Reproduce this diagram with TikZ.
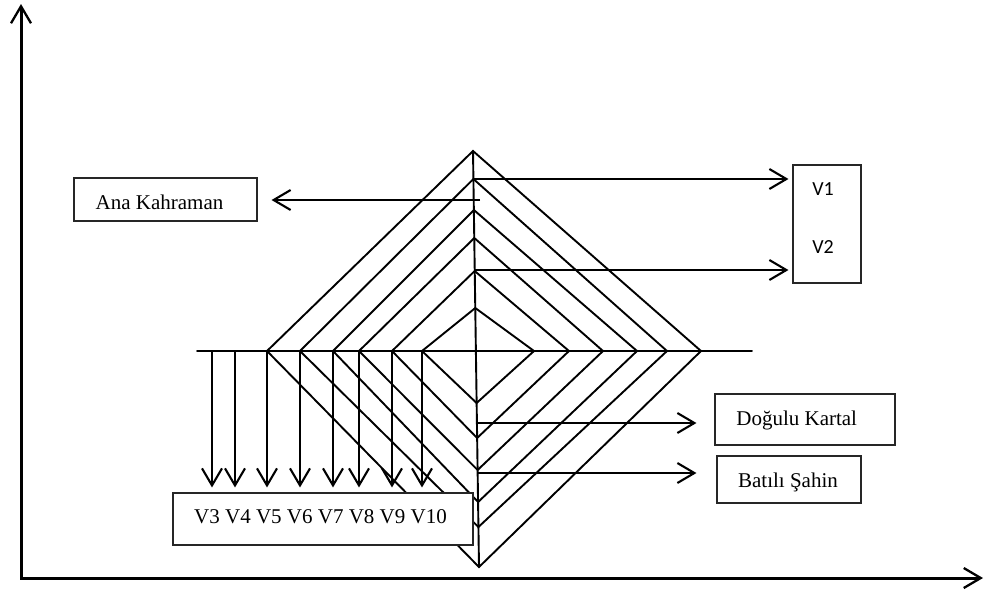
\documentclass[tikz,border=0pt]{standalone}
\usepackage{fontspec}
\setmainfont{Liberation Serif}
\newfontfamily\calibfont{Carlito}
\usetikzlibrary{arrows.meta}
\begin{document}
\begin{tikzpicture}[x=1pt,y=-1pt,
  ln/.style={line width=1.9pt, line cap=round},
  arr/.style={line width=2.1pt, -{Straight Barb[length=17pt,width=20pt,line width=2.1pt]}},
  axis/.style={line width=3pt, {Straight Barb[length=17pt,width=20pt,line width=2.3pt]}-{Straight Barb[length=17pt,width=20pt,line width=2.3pt]}},
  boxst/.style={draw=black!85, line width=1.1pt, fill=white, inner sep=0pt},
  txt/.style={font=\fontsize{21}{25}\selectfont, inner sep=0pt, anchor=base},
  stxt/.style={font=\calibfont\fontsize{20}{24}\selectfont, inner sep=0pt, anchor=base}]
\useasboundingbox (0,0) rectangle (984,590);

% axes
\coordinate (ytop) at (21,4);
\coordinate (O) at (21,578);
\coordinate (xend) at (983,578);
\draw[axis] (ytop) -- (O) -- (xend);

% diamond corner coordinates
\foreach \i/\L/\Tx/\Ty/\R/\Bx/\By in {1/267/473/151/701/479/567, 2/300/473.4/179/667/478.4/527, 3/333/473.9/210/637/478.1/502, 4/359/474.3/238/603/477.6/470, 5/392/474.7/271/569/477.1/438, 6/422/475.3/308/534/476.6/403}{
  \coordinate (L\i) at (\L,351);
  \coordinate (T\i) at (\Tx,\Ty);
  \coordinate (R\i) at (\R,351);
  \coordinate (B\i) at (\Bx,\By);
  \draw[ln] (L\i) -- (T\i) -- (R\i) -- (B\i) -- (L\i);
}

% horizontal and vertical lines
\coordinate (hl) at (197,351);
\coordinate (hr) at (752,351);
\draw[ln] (hl) -- (hr);
\draw[ln] (T1) -- (B1);

% boxes
\node[boxst, minimum width=183pt, minimum height=43pt] (anabox) at (165.5,199.5) {};
\node[txt] (ana) at (159.5,209) {Ana Kahraman};
\node[boxst, minimum width=68pt, minimum height=118pt] (vbox) at (827,224) {};
\node[stxt] (v1) at (823,195) {V1};
\node[stxt] (v2) at (823,253) {V2};
\node[boxst, minimum width=180pt, minimum height=51pt] (dkbox) at (805,419.5) {};
\node[txt] (dk) at (796.7,425) {Doğulu Kartal};
\node[boxst, minimum width=144pt, minimum height=47pt] (bsbox) at (789,479.5) {};
\node[txt] (bs) at (788,487) {Batılı Şahin};

% horizontal arrows from the vertical line
\coordinate (ca) at (480,200);
\coordinate (c1) at (473.4,179);
\coordinate (c2) at (474.7,270);
\coordinate (c3) at (478,423);
\coordinate (c4) at (478,473);
\draw[arr, shorten >=14pt] (ca) -- (ca -| anabox.east);
\draw[arr, shorten >=4pt] (c1) -- (c1 -| vbox.west);
\draw[arr, shorten >=4pt] (c2) -- (c2 -| vbox.west);
\draw[arr, shorten >=18pt] (c3) -- (c3 -| dkbox.west);
\draw[arr, shorten >=20pt] (c4) -- (c4 -| bsbox.west);

% V3..V10 box (covers diagonals)
\node[boxst, minimum width=300pt, minimum height=52pt] (vlbox) at (323,519) {};
\node[txt] (vl) at (320.5,523) {V3 V4 V5 V6 V7 V8 V9 V10};

% down arrows
\coordinate (d1) at (212,351);
\coordinate (d2) at (235,351);
\foreach \p in {d1,d2,L1,L2,L3,L4,L5,L6}{
  \draw[arr, shorten >=5pt] (\p) -- (\p |- vlbox.north);
}
\end{tikzpicture}
\end{document}
